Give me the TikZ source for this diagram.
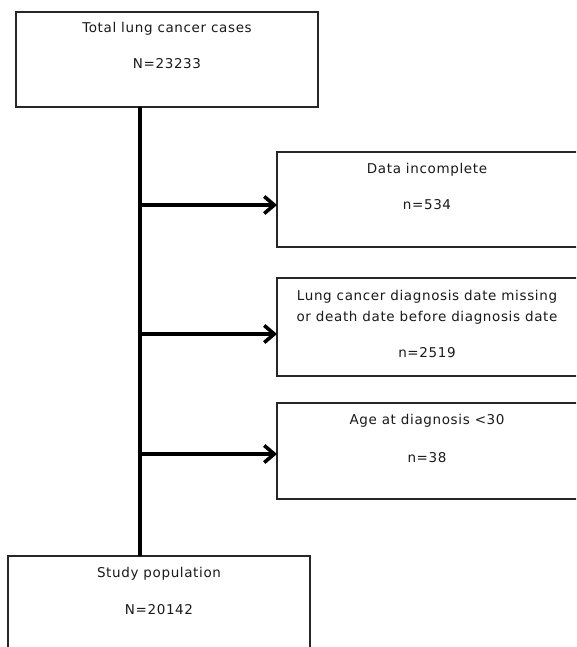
\documentclass[tikz,border=0pt]{standalone}
\usepackage{fontspec}
\setmainfont{DejaVu Sans}[LetterSpace=4.7]
\usetikzlibrary{arrows.meta}
\begin{document}
\begin{tikzpicture}[x=1pt,y=-1pt,
  boxstyle/.style={draw=black!85, line width=1.3pt},
  txt/.style={anchor=base, inner sep=0pt, font=\fontsize{13.5}{16}\selectfont, text=black!90},
  trunk/.style={line width=4pt, black},
  flowarrow/.style={line width=3.6pt, black, -{Straight Barb[length=10pt,width=17pt]}}]
\useasboundingbox (0,0) rectangle (576,647);
\clip (0,0) rectangle (576,647);
% boxes
\draw[boxstyle] (16,12) rectangle (318,107);
\draw[boxstyle] (277,152) rectangle (590,247);
\draw[boxstyle] (277,278) rectangle (590,376);
\draw[boxstyle] (277,403) rectangle (590,499);
\draw[boxstyle] (8,556) rectangle (310,660);
\coordinate (box1) at (277,205);
\coordinate (box2) at (277,334);
\coordinate (box3) at (277,454);
\coordinate (ttop) at (140,107);
\coordinate (tbot) at (140,556);
\coordinate (j1) at (140,205);
\coordinate (j2) at (140,334);
\coordinate (j3) at (140,454);
% texts
\node[txt] (t1) at (167,33) {Total lung cancer cases};
\node[txt] (t2) at (167,69) {N=23233};
\node[txt] (d1) at (427,173) {Data incomplete};
\node[txt] (d2) at (427,209) {n=534};
\node[txt] (l1) at (427,300) {Lung cancer diagnosis date missing};
\node[txt] (l2) at (427,321) {or death date before diagnosis date};
\node[txt] (l3) at (427,357) {n=2519};
\node[txt] (a1) at (427,424) {Age at diagnosis <30};
\node[txt] (a2) at (427,462) {n=38};
\node[txt] (s1) at (159,577) {Study population};
\node[txt] (s2) at (159,614) {N=20142};
% connectors
\draw[trunk] (ttop) -- (tbot);
\draw[flowarrow] (j1) -- (box1);
\draw[flowarrow] (j2) -- (box2);
\draw[flowarrow] (j3) -- (box3);
\end{tikzpicture}
\end{document}
